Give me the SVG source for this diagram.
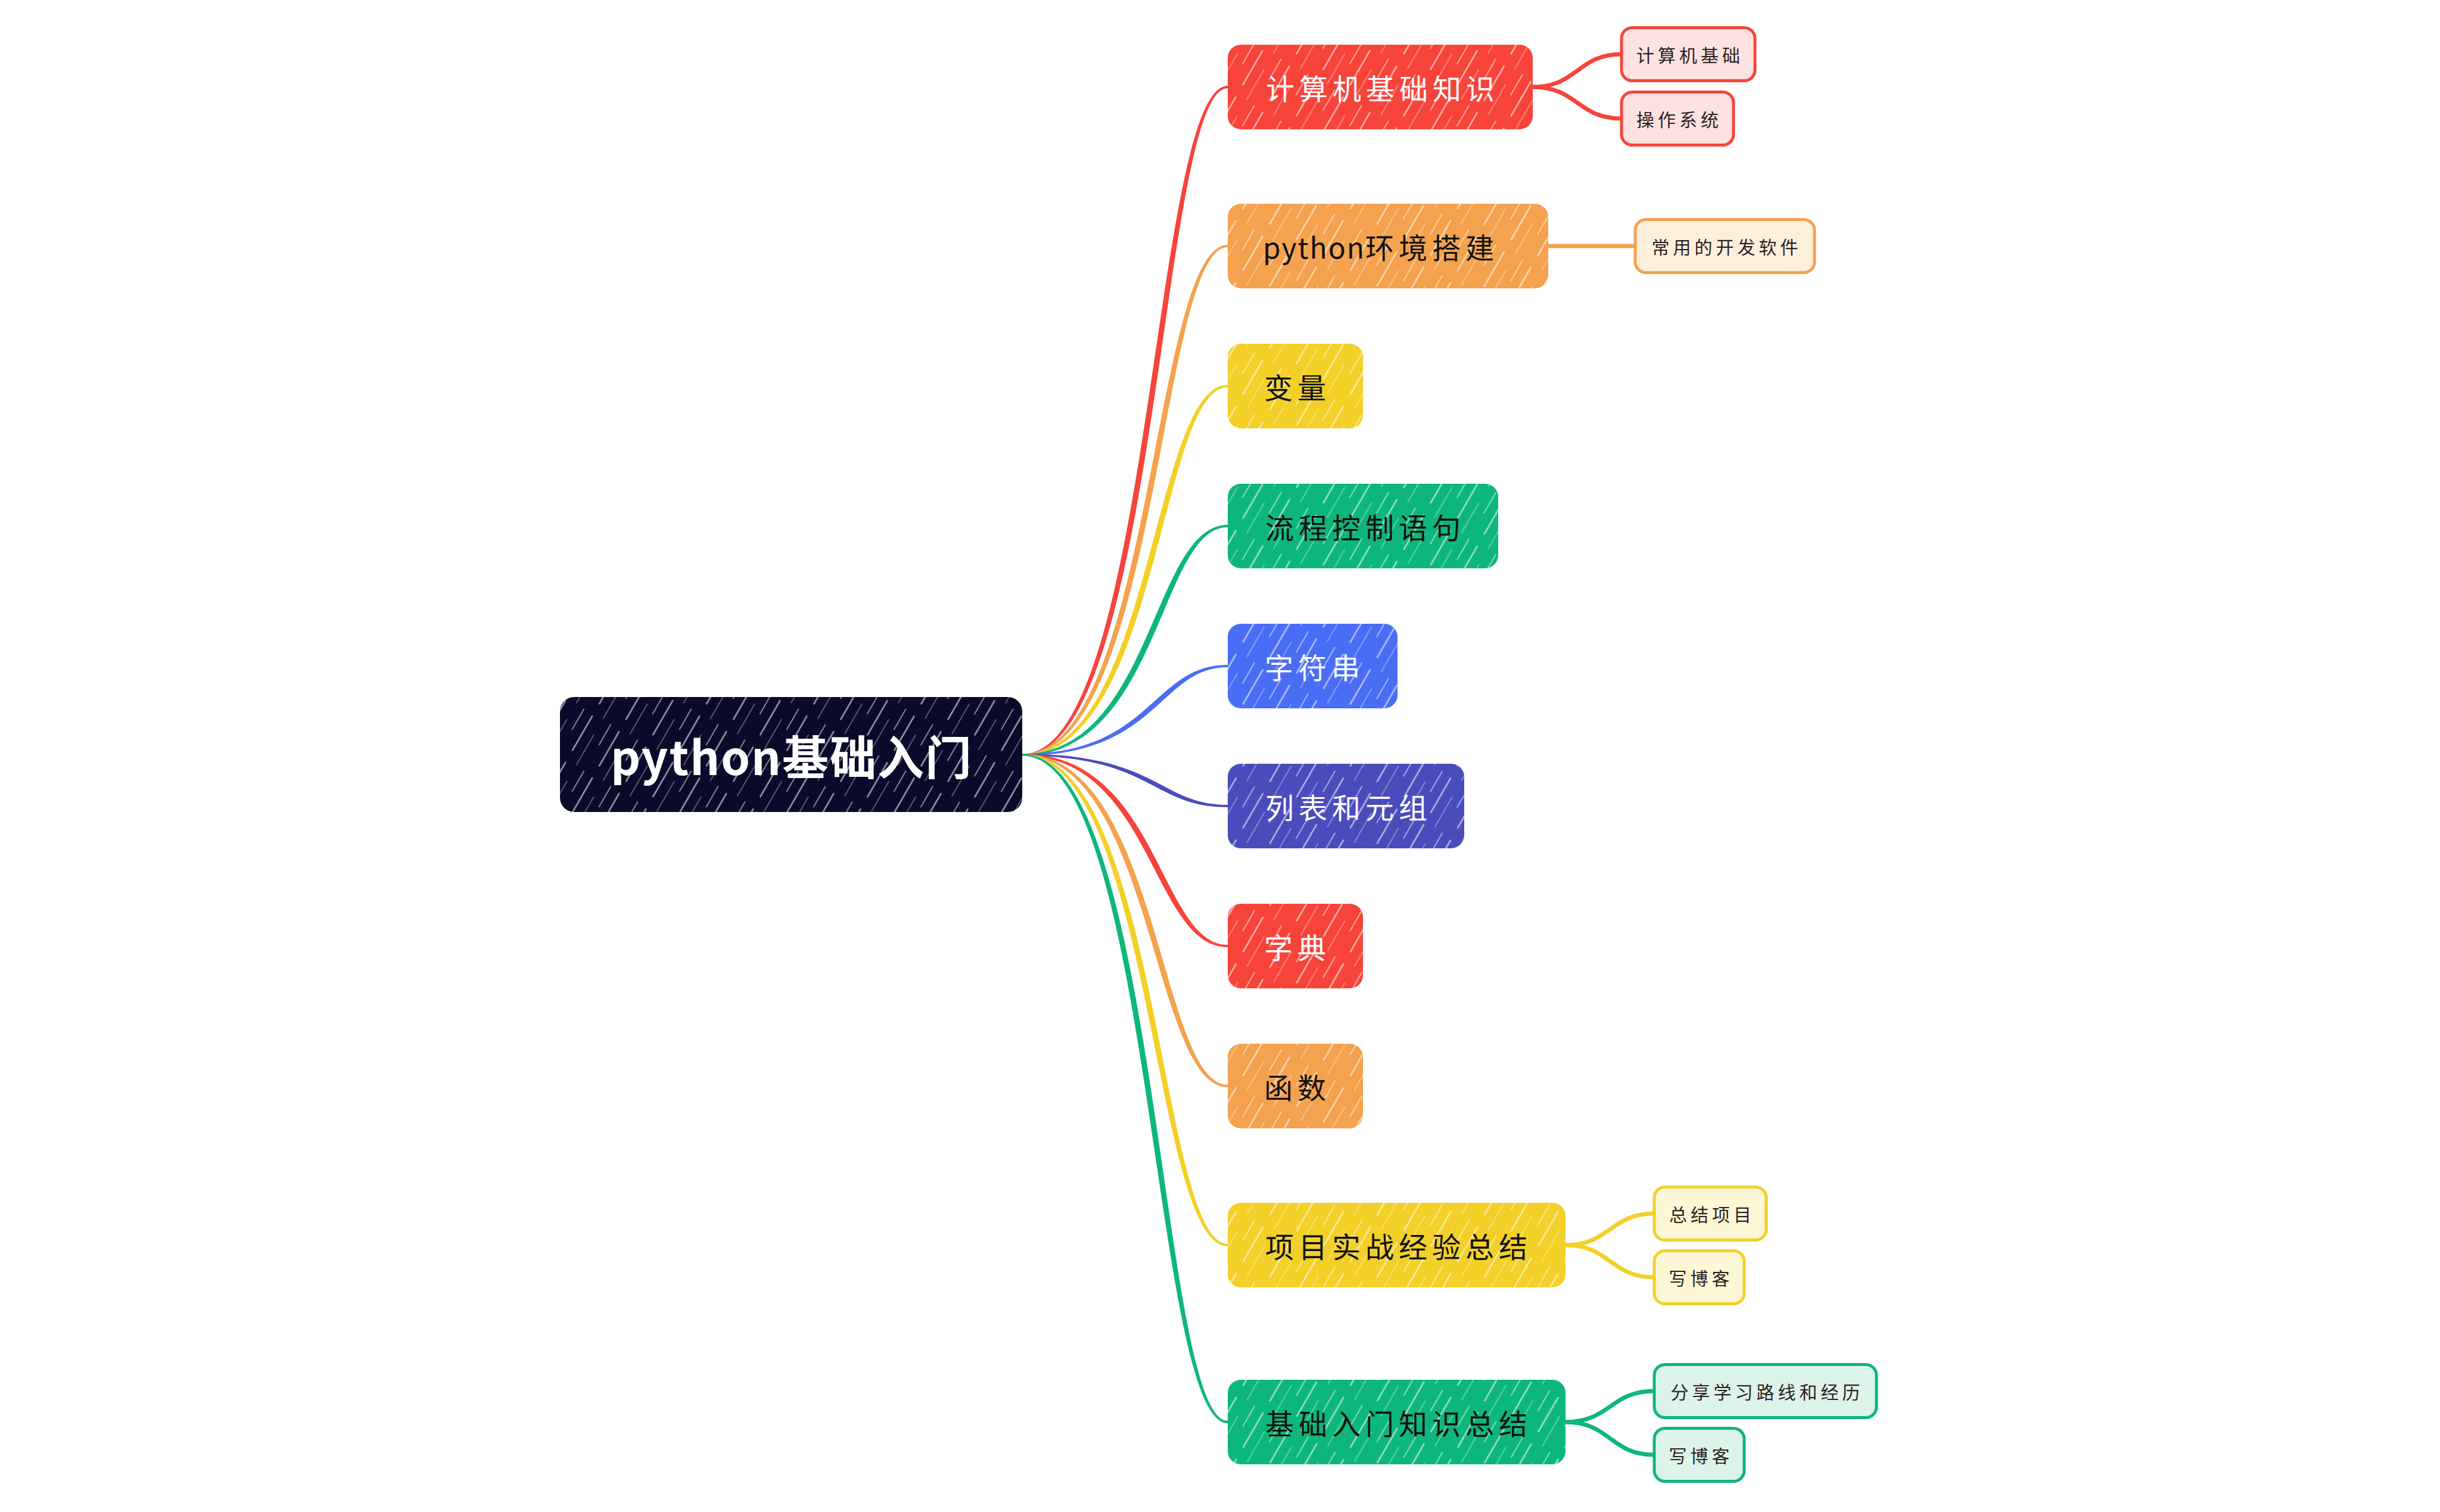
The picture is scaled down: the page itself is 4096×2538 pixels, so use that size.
<svg xmlns="http://www.w3.org/2000/svg" width="4096" height="2538" viewBox="0 0 4096 2538">
<defs>
<style>
text{font-family:"Noto Sans CJK SC","Noto Sans",sans-serif;dominant-baseline:central;text-anchor:middle}
.root-t{font-size:78px;font-weight:700;fill:#ffffff;letter-spacing:2px}
.bt{font-size:48px;font-weight:400;letter-spacing:8px}
.st{font-size:30px;font-weight:400;letter-spacing:6px;fill:#2b2222}
.lat{letter-spacing:2px}
.w{fill:#ffffff}
.d{fill:#111111}
.hatch{fill:url(#hatch)}
.sub{stroke-width:5}
.red{fill:#F7443B}
.org{fill:#F4A24E}
.yel{fill:#F2D027}
.grn{fill:#0DB77B}
.blu{fill:#4A6DF6}
.ind{fill:#4A4CBC}
.cr{fill:#F7443B}
.co{fill:#F4A24E}
.cy{fill:#F2D027}
.cg{fill:#0DB77B}
.cb{fill:#4A6DF6}
.ci{fill:#4A4CBC}
.sl{fill:none;stroke-width:7;stroke-linecap:round}
</style>
<pattern id="hatch" patternUnits="userSpaceOnUse" width="52" height="90" patternTransform="rotate(30)">
<line x1="6" y1="4" x2="6" y2="70" stroke="#ffffff" stroke-width="2.5" stroke-opacity="0.6" stroke-linecap="round"/>
<line x1="24" y1="30" x2="24" y2="88" stroke="#ffffff" stroke-width="1.6" stroke-opacity="0.4" stroke-linecap="round"/>
<line x1="40" y1="0" x2="40" y2="40" stroke="#ffffff" stroke-width="2" stroke-opacity="0.5" stroke-linecap="round"/>
</pattern>
</defs>
<rect x="0" y="0" width="4096" height="2538" fill="#ffffff"/>

<g id="connectors">
<path class="cr" d="M1716,1268.5 C1946,1268.5 1946,148 2061,148 L2061,144 C1934,144 1934,1265.5 1716,1265.5 Z"/>
<path class="co" d="M1716,1268.5 C1946,1268.5 1946,415 2061,415 L2061,411 C1934,411 1934,1265.5 1716,1265.5 Z"/>
<path class="cy" d="M1716,1268.5 C1946,1268.5 1946,650 2061,650 L2061,646 C1934,646 1934,1265.5 1716,1265.5 Z"/>
<path class="cg" d="M1716,1268.5 C1946,1268.5 1946,885 2061,885 L2061,881 C1934,881 1934,1265.5 1716,1265.5 Z"/>
<path class="cb" d="M1716,1268.5 C1946,1268.5 1946,1120 2061,1120 L2061,1116 C1934,1116 1934,1265.5 1716,1265.5 Z"/>
<path class="ci" d="M1716,1268.5 C1934,1268.5 1934,1355 2061,1355 L2061,1351 C1946,1351 1946,1265.5 1716,1265.5 Z"/>
<path class="cr" d="M1716,1268.5 C1934,1268.5 1934,1590 2061,1590 L2061,1586 C1946,1586 1946,1265.5 1716,1265.5 Z"/>
<path class="co" d="M1716,1268.5 C1934,1268.5 1934,1825 2061,1825 L2061,1821 C1946,1821 1946,1265.5 1716,1265.5 Z"/>
<path class="cy" d="M1716,1268.5 C1934,1268.5 1934,2092 2061,2092 L2061,2088 C1946,2088 1946,1265.5 1716,1265.5 Z"/>
<path class="cg" d="M1716,1268.5 C1934,1268.5 1934,2389 2061,2389 L2061,2385 C1946,2385 1946,1265.5 1716,1265.5 Z"/>
<path class="sl" stroke="#F7443B" d="M2573,146 C2648,146 2648,91 2722,91"/>
<path class="sl" stroke="#F7443B" d="M2573,146 C2648,146 2648,199 2722,199"/>
<path class="sl" stroke="#F4A24E" d="M2599,413 L2745,413"/>
<path class="sl" stroke="#F2D027" d="M2628,2090 C2703,2090 2703,2037 2777,2037"/>
<path class="sl" stroke="#F2D027" d="M2628,2090 C2703,2090 2703,2144 2777,2144"/>
<path class="sl" stroke="#0DB77B" d="M2628,2387 C2703,2387 2703,2335 2777,2335"/>
<path class="sl" stroke="#0DB77B" d="M2628,2387 C2703,2387 2703,2442 2777,2442"/>
</g>

<g id="root">
<rect x="940" y="1170" width="776" height="193" rx="24" fill="#0A0A2A"/>
<rect class="hatch" x="940" y="1170" width="776" height="193" rx="24"/>
<text class="root-t" x="1329" y="1267">python基础入门</text>
</g>

<g id="b1">
<rect class="red" x="2061" y="75" width="512" height="142" rx="22"/>
<rect class="hatch" x="2061" y="75" width="512" height="142" rx="22"/>
<text class="bt w" x="2321" y="146">计算机基础知识</text>
</g>
<g id="b2">
<rect class="org" x="2061" y="342" width="538" height="142" rx="22"/>
<rect class="hatch" x="2061" y="342" width="538" height="142" rx="22"/>
<text class="bt d" x="2318" y="413"><tspan class="lat">python</tspan>环境搭建</text>
</g>
<g id="b3">
<rect class="yel" x="2061" y="577" width="227" height="142" rx="22"/>
<rect class="hatch" x="2061" y="577" width="227" height="142" rx="22"/>
<text class="bt d" x="2178" y="648">变量</text>
</g>
<g id="b4">
<rect class="grn" x="2061" y="812" width="454" height="142" rx="22"/>
<rect class="hatch" x="2061" y="812" width="454" height="142" rx="22"/>
<text class="bt d" x="2292" y="883">流程控制语句</text>
</g>
<g id="b5">
<rect class="blu" x="2061" y="1047" width="285" height="142" rx="22"/>
<rect class="hatch" x="2061" y="1047" width="285" height="142" rx="22"/>
<text class="bt w" x="2207" y="1118">字符串</text>
</g>
<g id="b6">
<rect class="ind" x="2061" y="1282" width="397" height="142" rx="22"/>
<rect class="hatch" x="2061" y="1282" width="397" height="142" rx="22"/>
<text class="bt w" x="2264" y="1353">列表和元组</text>
</g>
<g id="b7">
<rect class="red" x="2061" y="1517" width="227" height="142" rx="22"/>
<rect class="hatch" x="2061" y="1517" width="227" height="142" rx="22"/>
<text class="bt w" x="2178" y="1588">字典</text>
</g>
<g id="b8">
<rect class="org" x="2061" y="1752" width="227" height="142" rx="22"/>
<rect class="hatch" x="2061" y="1752" width="227" height="142" rx="22"/>
<text class="bt d" x="2178" y="1823">函数</text>
</g>
<g id="b9">
<rect class="yel" x="2061" y="2019" width="567" height="142" rx="22"/>
<rect class="hatch" x="2061" y="2019" width="567" height="142" rx="22"/>
<text class="bt d" x="2348" y="2090">项目实战经验总结</text>
</g>
<g id="b10">
<rect class="grn" x="2061" y="2316" width="567" height="142" rx="22"/>
<rect class="hatch" x="2061" y="2316" width="567" height="142" rx="22"/>
<text class="bt d" x="2348" y="2387">基础入门知识总结</text>
</g>

<g id="s1">
<rect class="sub" x="2722" y="46.5" width="224" height="89" rx="18" fill="#FDE2E0" stroke="#F7443B"/>
<text class="st" x="2837" y="91">计算机基础</text>
</g>
<g id="s2">
<rect class="sub" x="2722" y="154.5" width="188" height="89" rx="18" fill="#FDE2E0" stroke="#F7443B"/>
<text class="st" x="2819" y="199">操作系统</text>
</g>
<g id="s3">
<rect class="sub" x="2745" y="368.5" width="301" height="89" rx="18" fill="#FEEFDD" stroke="#F4A24E"/>
<text class="st" x="2898.5" y="413">常用的开发软件</text>
</g>
<g id="s4">
<rect class="sub" x="2777" y="1992.5" width="188" height="89" rx="18" fill="#FDF7D6" stroke="#F2D027"/>
<text class="st" x="2874" y="2037">总结项目</text>
</g>
<g id="s5">
<rect class="sub" x="2777" y="2099.5" width="151" height="89" rx="18" fill="#FDF7D6" stroke="#F2D027"/>
<text class="st" x="2855.5" y="2144">写博客</text>
</g>
<g id="s6">
<rect class="sub" x="2777" y="2290.5" width="373" height="89" rx="18" fill="#DDF4EA" stroke="#0DB77B"/>
<text class="st" x="2966.5" y="2335">分享学习路线和经历</text>
</g>
<g id="s7">
<rect class="sub" x="2777" y="2397.5" width="151" height="89" rx="18" fill="#DDF4EA" stroke="#0DB77B"/>
<text class="st" x="2855.5" y="2442">写博客</text>
</g>
</svg>
